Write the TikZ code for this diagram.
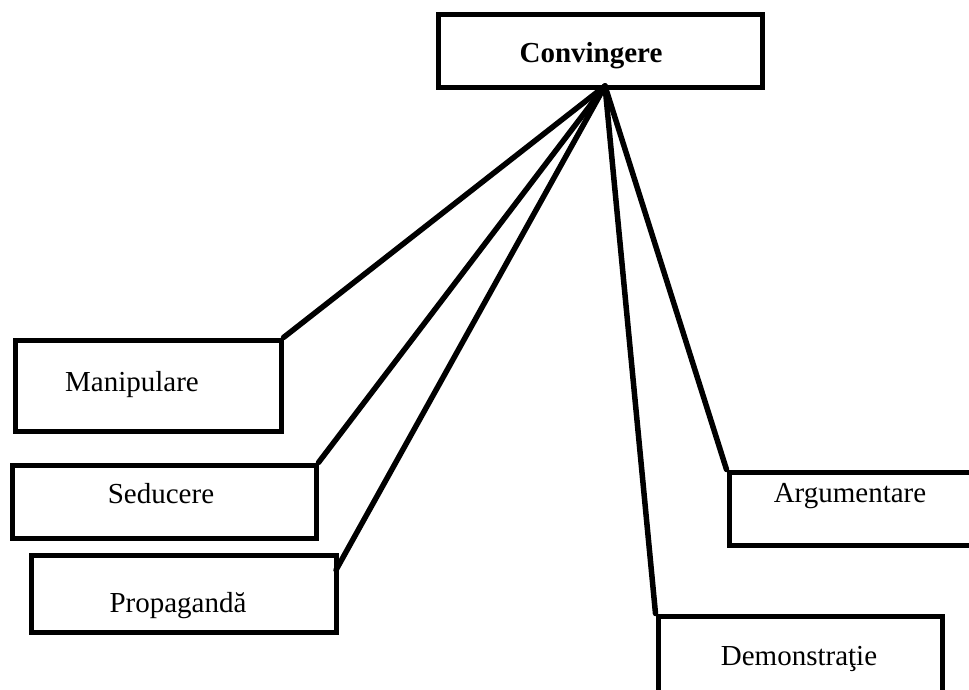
\documentclass[tikz,border=0pt]{standalone}
\usepackage{fontspec}
\setmainfont{Liberation Serif}
\begin{document}
\begin{tikzpicture}[x=1pt,y=-1pt,
  box/.style={draw=black,line width=5pt,rectangle,inner sep=0pt},
  lbl/.style={inner sep=0pt,anchor=base,font=\fontsize{29}{35}\selectfont},
  conn/.style={line width=5.5pt,line cap=round}]
\useasboundingbox (0,0) rectangle (969,690);
% boxes
\node[box,minimum width=324pt,minimum height=73pt] (conv) at (600,51.5) {};
\node[box,minimum width=266pt,minimum height=91pt] (man) at (148,385.5) {};
\node[box,minimum width=304pt,minimum height=73pt] (sed) at (164,501.5) {};
\node[box,minimum width=305pt,minimum height=77pt] (prop) at (183.5,593.5) {};
\node[box,minimum width=261pt,minimum height=73pt] (arg) at (859.5,508.5) {};
\node[box,minimum width=284pt,minimum height=84pt] (dem) at (800,658) {};
% labels
\node[lbl,font=\fontsize{29}{35}\selectfont\bfseries] (tconv) at (591,63) {Convingere};
\node[lbl] (tman) at (132,391) {Manipulare};
\node[lbl] (tsed) at (161,503) {Seducere};
\node[lbl] (tprop) at (178,612) {Propagandă};
\node[lbl] (targ) at (850,502) {Argumentare};
\node[lbl] (tdem) at (799,665) {Demonstraţie};
% connectors
\coordinate (apex) at (605,86);
\coordinate (propc) at (336,570);
\draw[conn] (apex) -- (man.north east);
\draw[conn] (apex) -- (sed.north east);
\draw[conn] (apex) -- (propc);
\draw[conn] (apex) -- (arg.north west);
\draw[conn] (apex) -- (dem.north west);
\end{tikzpicture}
\end{document}
